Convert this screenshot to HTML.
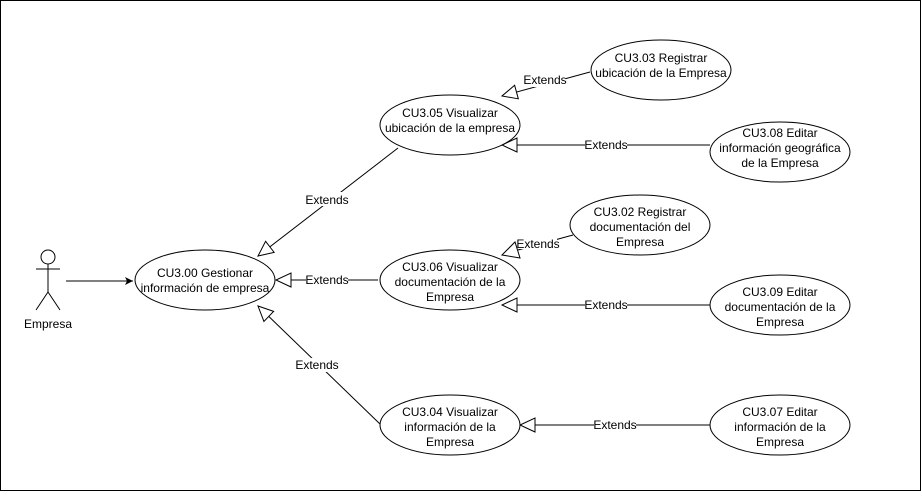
<!DOCTYPE html>
<html><head><style>
body{margin:0;background:#fff}
svg text{font-family:"Liberation Sans",Arial,sans-serif;font-size:12px;fill:#000}
</style></head><body>
<svg width="922" height="492" xmlns="http://www.w3.org/2000/svg">
<defs>
<marker id="tri" markerUnits="userSpaceOnUse" markerWidth="20" markerHeight="20" refX="16" refY="8" orient="auto" viewBox="0 0 20 16">
<path d="M1,1 L16,8 L1,15 Z" fill="#fff" stroke="#000" stroke-width="1"/>
</marker>
<marker id="arr" markerUnits="userSpaceOnUse" markerWidth="10" markerHeight="10" refX="8" refY="4" orient="auto" viewBox="0 0 10 8">
<path d="M0,0 L8,4 L0,8 L2,4 Z" fill="#000"/>
</marker>
</defs>
<rect x="0.5" y="0.5" width="920" height="490" fill="#fff" stroke="#000"/>
<g stroke="#000" fill="none" stroke-width="1">
<circle cx="48" cy="257" r="7"/>
<line x1="48" y1="264" x2="48" y2="292"/>
<line x1="36" y1="269" x2="60" y2="269"/>
<line x1="48" y1="292" x2="36" y2="310"/>
<line x1="48" y1="292" x2="60" y2="310"/>
<line x1="66" y1="281" x2="133" y2="281" marker-end="url(#arr)"/>
<line x1="398" y1="148" x2="258" y2="256" marker-end="url(#tri)"/>
<line x1="378" y1="280" x2="276" y2="280" marker-end="url(#tri)"/>
<line x1="380" y1="424" x2="258" y2="306" marker-end="url(#tri)"/>
<line x1="590" y1="72" x2="502" y2="96" marker-end="url(#tri)"/>
<line x1="710" y1="145" x2="502" y2="145" marker-end="url(#tri)"/>
<line x1="710" y1="305" x2="502" y2="305" marker-end="url(#tri)"/>
<line x1="710" y1="425" x2="520" y2="425" marker-end="url(#tri)"/>
<line x1="573" y1="235" x2="518" y2="250"/>
</g>
<g fill="#fff">
<rect x="306" y="192" width="42" height="14"/>
<rect x="306" y="273" width="42" height="14"/>
<rect x="296" y="358" width="42" height="14"/>
<rect x="524" y="73" width="42" height="14"/>
<rect x="585" y="138" width="42" height="14"/>
<rect x="585" y="298" width="42" height="14"/>
<rect x="594" y="418" width="42" height="14"/>
<rect x="519" y="238" width="38" height="11"/>
</g>
<polygon points="502,255 515,242 520,258" fill="#fff" stroke="#000"/>
<g fill="#fff" stroke="#000">
<ellipse cx="205" cy="280" rx="70" ry="30"/>
<ellipse cx="450" cy="125" rx="70" ry="30"/>
<ellipse cx="661" cy="70" rx="70" ry="30"/>
<ellipse cx="780" cy="152" rx="70" ry="30"/>
<ellipse cx="450" cy="280" rx="70" ry="30"/>
<ellipse cx="640" cy="225" rx="70" ry="30"/>
<ellipse cx="780" cy="305" rx="70" ry="30"/>
<ellipse cx="450" cy="425" rx="70" ry="30"/>
<ellipse cx="780" cy="425" rx="70" ry="30"/>
</g>
<g text-anchor="middle">
<text x="48" y="328">Empresa</text>
<text x="327" y="204">Extends</text>
<text x="327" y="284">Extends</text>
<text x="317" y="369">Extends</text>
<text x="545" y="84">Extends</text>
<text x="606" y="149">Extends</text>
<text x="538" y="248">Extends</text>
<text x="606" y="309">Extends</text>
<text x="615" y="429">Extends</text>
<text x="205" y="277">CU3.00 Gestionar</text><text x="205" y="292">información de empresa</text>
<text x="450" y="117">CU3.05 Visualizar</text><text x="450" y="132">ubicación de la empresa</text>
<text x="661" y="62">CU3.03 Registrar</text><text x="661" y="77">ubicación de la Empresa</text>
<text x="780" y="137">CU3.08 Editar</text><text x="780" y="152">información geográfica</text><text x="780" y="167">de la Empresa</text>
<text x="450" y="271">CU3.06 Visualizar</text><text x="450" y="286">documentación de la</text><text x="450" y="301">Empresa</text>
<text x="640" y="216">CU3.02 Registrar</text><text x="640" y="231">documentación del</text><text x="640" y="246">Empresa</text>
<text x="780" y="296">CU3.09 Editar</text><text x="780" y="311">documentación de la</text><text x="780" y="326">Empresa</text>
<text x="450" y="416">CU3.04 Visualizar</text><text x="450" y="431">información de la</text><text x="450" y="446">Empresa</text>
<text x="780" y="416">CU3.07 Editar</text><text x="780" y="431">información de la</text><text x="780" y="446">Empresa</text>
</g>
</svg>
</body></html>
